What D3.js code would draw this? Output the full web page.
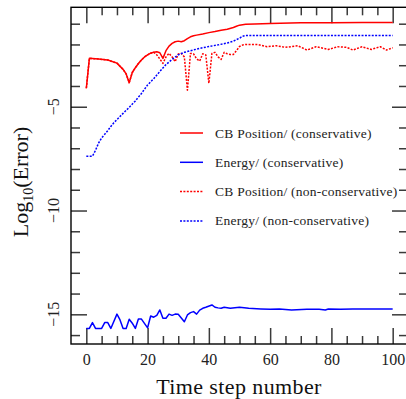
<!DOCTYPE html>
<html>
<head>
<meta charset="utf-8">
<script src="https://cdn.jsdelivr.net/npm/d3@7"></script>
<style>
  body { margin: 0; background: #fff; }
  svg { display: block; font-family: 'Liberation Serif', 'DejaVu Serif', serif; }
</style>
</head>
<body>
<svg id="chart" width="406" height="399"></svg>
<script>
// --- data (log10 of error vs. time step) ---
const cbConsSteps = [0, 1, 4, 7, 10, 12, 13, 14, 15, 16, 17, 18, 19, 20, 21, 22, 23, 24, 25, 26, 27, 28, 29, 30, 31, 32, 33, 34, 35, 36, 38, 40, 42, 44, 46, 48, 49, 50, 52, 55, 60, 70, 80, 90, 100];
const cbConsVals  = [-4.11, -2.67, -2.7, -2.75, -2.9, -3.2, -3.42, -3.84, -3.35, -3.12, -2.92, -2.75, -2.6, -2.5, -2.42, -2.37, -2.35, -2.4, -2.67, -2.3, -2.08, -1.95, -1.87, -1.84, -1.87, -1.82, -1.72, -1.63, -1.58, -1.55, -1.5, -1.43, -1.38, -1.32, -1.27, -1.18, -1.12, -1.07, -1.03, -1.01, -0.99, -0.96, -0.95, -0.94, -0.94];

const enConsSteps = [0, 1, 2, 3, 4, 5, 6, 7, 8, 10, 11, 12, 13, 14, 15, 16, 17, 18, 20, 21, 22, 23, 24, 25, 26, 27, 28, 29, 30, 32, 33, 34, 35, 36, 37, 38, 39, 41, 42, 43, 44, 45, 47, 50, 53, 57, 60, 63, 67, 72, 76, 78, 79, 83, 87, 100];
const enConsVals  = [-15.68, -15.68, -15.4, -15.68, -15.68, -15.68, -15.4, -15.4, -15.68, -14.99, -15.27, -15.68, -15.68, -15.24, -15.43, -15.68, -15.23, -15.23, -15.65, -15.08, -15.14, -15.05, -14.79, -15.19, -15.19, -14.99, -15.05, -14.99, -15.0, -15.36, -15.03, -14.92, -14.87, -14.99, -14.8, -14.71, -14.66, -14.55, -14.66, -14.69, -14.71, -14.66, -14.71, -14.66, -14.71, -14.74, -14.76, -14.74, -14.79, -14.76, -14.76, -14.79, -14.74, -14.76, -14.74, -14.74];

const cbNonSteps = [0, 1, 4, 7, 10, 12, 13, 14, 15, 16, 17, 18, 19, 20, 21, 22, 23, 24, 25, 26, 27, 28, 29, 30, 31, 32, 33, 34, 35, 36, 37, 38, 39, 40, 41, 42, 43, 44, 45, 46, 47, 48, 49, 50, 51, 52, 56, 59, 62, 65, 69, 72, 75, 79, 82, 85, 87, 90, 93, 96, 98, 100];
const cbNonVals  = [-4.11, -2.67, -2.7, -2.75, -2.9, -3.2, -3.42, -3.84, -3.35, -3.12, -2.92, -2.75, -2.6, -2.5, -2.42, -2.38, -2.5, -2.7, -2.91, -2.6, -2.43, -2.6, -2.83, -2.46, -2.43, -2.6, -4.2, -2.43, -2.45, -2.7, -2.8, -2.45, -2.5, -3.87, -2.43, -2.38, -2.6, -2.72, -2.38, -2.45, -2.48, -2.48, -2.3, -2.1, -2.03, -2.0, -2.0, -2.11, -2.06, -2.14, -2.06, -2.27, -2.11, -2.24, -2.11, -2.14, -2.27, -2.11, -2.24, -2.11, -2.27, -2.16];

const enNonSteps = [0, 1, 2, 3, 4, 5, 6, 7, 8, 9, 10, 12, 14, 16, 18, 20, 22, 24, 26, 28, 30, 32, 34, 37, 40, 43, 46, 48, 50, 51, 52, 100];
const enNonVals  = [-7.38, -7.38, -7.38, -7.1, -6.75, -6.5, -6.33, -6.15, -5.95, -5.77, -5.62, -5.32, -5.03, -4.72, -4.36, -3.95, -3.65, -3.3, -2.97, -2.72, -2.5, -2.38, -2.3, -2.19, -2.1, -2.02, -1.93, -1.84, -1.7, -1.6, -1.57, -1.57];

const seriesNames = ['CB Position/ (conservative)', 'Energy/ (conservative)', 'CB Position/ (non-conservative)', 'Energy/ (non-conservative)'];
const xMajorTicks = [0, 20, 40, 60, 80, 100];
const yMajorTicks = [-15, -10, -5];

const series = [
  {name: seriesNames[0], xs: cbConsSteps, ys: cbConsVals, color: '#ff0000', dash: null},
  {name: seriesNames[1], xs: enConsSteps, ys: enConsVals, color: '#0000ff', dash: null},
  {name: seriesNames[2], xs: cbNonSteps, ys: cbNonVals, color: '#ff0000', dash: '2,1.4'},
  {name: seriesNames[3], xs: enNonSteps, ys: enNonVals, color: '#0000ff', dash: '2,1.4'}
];

const svg = d3.select('#chart');
const margin = {top: 7.3, right: -2, bottom: 55, left: 71};
const width = 406, height = 399;

const x = d3.scaleLinear().domain([-5, 105]).range([margin.left, width - margin.right]);
const y = d3.scaleLinear().domain([-16.43, -0.21]).range([height - margin.bottom, margin.top]);

const x0 = x.range()[0], x1 = x.range()[1];
const y0 = y.range()[0], y1 = y.range()[1];

// ticks, all pointing inward, mirrored on every side
const xMinor = d3.range(0, 101, 5).filter(d => d % 20 !== 0);
const yMinor = d3.range(-16, 0, 1).filter(d => d % 5 !== 0);
const tickColor = '#3a3a3a';

function strip(g) {
  g.select('.domain').remove();
  g.selectAll('line').attr('stroke', tickColor).attr('stroke-width', 1.5);
}

svg.append('g').attr('transform', `translate(0,${y0})`)
  .call(d3.axisBottom(x).tickValues(xMajorTicks).tickSize(-16).tickPadding(10).tickFormat(d3.format('d')))
  .call(strip)
  .call(g => g.selectAll('text').attr('fill', '#222').style('font-size', '16px').style('font-family', "'Liberation Serif', serif"));
svg.append('g').attr('transform', `translate(0,${y0})`)
  .call(d3.axisBottom(x).tickValues(xMinor).tickSize(-8).tickFormat(''))
  .call(strip);
svg.append('g').attr('transform', `translate(0,${y1})`)
  .call(d3.axisTop(x).tickValues(xMajorTicks).tickSize(-16).tickFormat(''))
  .call(strip);
svg.append('g').attr('transform', `translate(0,${y1})`)
  .call(d3.axisTop(x).tickValues(xMinor).tickSize(-8).tickFormat(''))
  .call(strip);

svg.append('g').attr('transform', `translate(${x0},0)`)
  .call(d3.axisLeft(y).tickValues(yMajorTicks).tickSize(-16).tickFormat(''))
  .call(strip);
svg.append('g').attr('transform', `translate(${x0},0)`)
  .call(d3.axisLeft(y).tickValues(yMinor).tickSize(-9).tickFormat(''))
  .call(strip);
svg.append('g').attr('transform', `translate(${x1},0)`)
  .call(d3.axisRight(y).tickValues(yMajorTicks).tickSize(-16).tickFormat(''))
  .call(strip);
svg.append('g').attr('transform', `translate(${x1},0)`)
  .call(d3.axisRight(y).tickValues(yMinor).tickSize(-9).tickFormat(''))
  .call(strip);

// rotated y tick labels
svg.append('g').selectAll('text')
  .data(yMajorTicks)
  .join('text')
  .attr('transform', d => `translate(59,${y(d)}) rotate(-90)`)
  .attr('text-anchor', 'middle')
  .attr('fill', '#222')
  .style('font-size', '16px')
  .text(d => '\u2212' + Math.abs(d));

// curves
const line = d3.line().x(d => x(d[0])).y(d => y(d[1]));
const plot = svg.append('g');
series.forEach(s => {
  plot.append('path')
    .datum(d3.zip(s.xs, s.ys))
    .attr('d', line)
    .attr('fill', 'none')
    .attr('stroke', s.color)
    .attr('stroke-width', 1.5)
    .attr('stroke-linejoin', 'round')
    .attr('stroke-dasharray', s.dash);
});

// frame
svg.append('rect')
  .attr('x', x0).attr('y', y1)
  .attr('width', x1 - x0).attr('height', y0 - y1)
  .attr('fill', 'none').attr('stroke', '#000').attr('stroke-width', 1.4);

// legend
const legend = svg.append('g').attr('transform', 'translate(180,133)');
series.forEach((s, i) => {
  const row = legend.append('g').attr('transform', `translate(0,${i * 29.3})`);
  row.append('line')
    .attr('x1', 0).attr('x2', 23)
    .attr('stroke', s.color).attr('stroke-width', 1.5)
    .attr('stroke-dasharray', s.dash);
  row.append('text')
    .attr('x', 35).attr('y', 4.5)
    .attr('fill', '#222')
    .style('font-size', '13.5px')
    .style('letter-spacing', '0.25px')
    .text(s.name);
});

// axis titles
svg.append('text')
  .attr('x', 239).attr('y', 394)
  .attr('text-anchor', 'middle')
  .attr('fill', '#111')
  .style('font-size', '22px')
  .style('letter-spacing', '0.4px')
  .text('Time step number');

const ylab = svg.append('text')
  .attr('transform', `translate(28,182) rotate(-90)`)
  .attr('text-anchor', 'middle')
  .attr('fill', '#111')
  .style('font-size', '22px');
ylab.append('tspan').text('Log');
ylab.append('tspan').attr('dy', 5).style('font-size', '14px').text('10');
ylab.append('tspan').attr('dy', -5).text('(Error)');
</script>
</body>
</html>
